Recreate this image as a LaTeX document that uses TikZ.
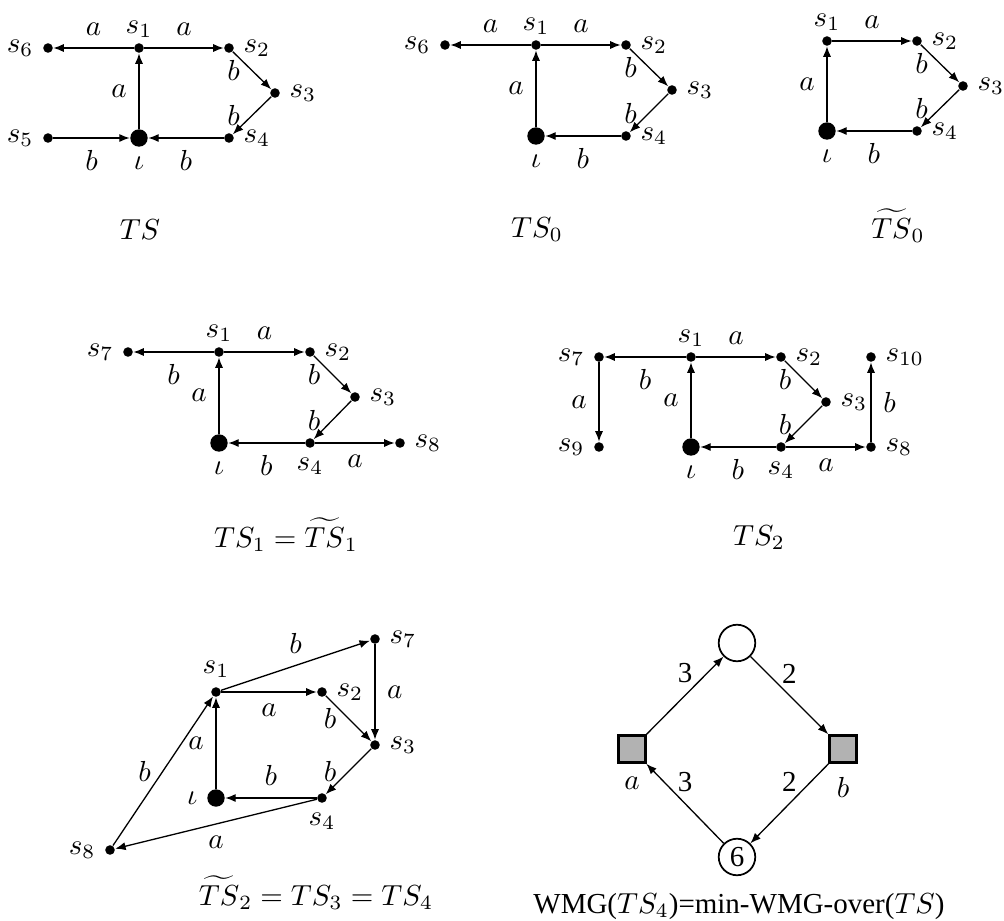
\documentclass[tikz,border=0pt]{standalone}
\usepackage{amsmath,amssymb}
\usepackage[no-math]{fontspec}
\setmainfont{Liberation Serif}
\usepackage{tikz}
\usetikzlibrary{arrows.meta}
\tikzset{
  st/.style={circle, fill=black, inner sep=0pt, minimum size=3.3pt},
  ist/.style={st, minimum size=6pt},
  tr/.style={-{Latex[length=3.6pt,width=2.8pt]}, line width=0.45pt},
  elab/.style={inner sep=4pt},
  captext/.style={anchor=base},
  slabup/.style={label={[label distance=-1.5pt]above:#1}},
  place/.style={circle, draw, line width=0.6pt, minimum size=12.6pt, inner sep=0pt},
  trans/.style={rectangle, draw, fill=black!30, line width=0.8pt, minimum size=9.4pt, inner sep=0pt},
  every label/.style={inner sep=3pt},
}

\begin{document}
\begin{tikzpicture}[x=0.345pt, y=-0.345pt]
  \useasboundingbox (0,0) rectangle (1004,921);

  % TS
  \node[st, slabup=$s_1$] (p1s1) at (139,48) {};
  \node[st, label=left:$s_6$] (p1s6) at (48,48) {};
  \node[st, label=right:$s_2$] (p1s2) at (229,48) {};
  \node[st, label=right:$s_3$] (p1s3) at (275,93) {};
  \node[st, label=right:$s_4$] (p1s4) at (229,138) {};
  \node[st, label=left:$s_5$] (p1s5) at (48,138) {};
  \node[ist, label=below:$\iota$] (p1i) at (139,138) {};
  \draw[tr] (p1s1) -- node[elab, above] (p1l1) {$a$} (p1s6);
  \draw[tr] (p1s1) -- node[elab, above] (p1l2) {$a$} (p1s2);
  \draw[tr] (p1s2) -- node[elab, left] (p1l3) {$b$} (p1s3);
  \draw[tr] (p1s3) -- node[elab, left] (p1l4) {$b$} (p1s4);
  \draw[tr] (p1i) -- node[elab, left] (p1l5) {$a$} (p1s1);
  \draw[tr] (p1s5) -- node[elab, below] (p1l6) {$b$} (p1i);
  \draw[tr] (p1s4) -- node[elab, below] (p1l7) {$b$} (p1i);
  \node[captext] (p1cap) at (140,239) {$TS$};

  % TS_0
  \node[st, slabup=$s_1$] (p2s1) at (536,45) {};
  \node[st, label=left:$s_6$] (p2s6) at (445,45) {};
  \node[st, label=right:$s_2$] (p2s2) at (626,45) {};
  \node[st, label=right:$s_3$] (p2s3) at (672,90) {};
  \node[st, label=right:$s_4$] (p2s4) at (626,136) {};
  \node[ist, label=below:$\iota$] (p2i) at (536,136) {};
  \draw[tr] (p2s1) -- node[elab, above] (p2l1) {$a$} (p2s6);
  \draw[tr] (p2s1) -- node[elab, above] (p2l2) {$a$} (p2s2);
  \draw[tr] (p2s2) -- node[elab, left] (p2l3) {$b$} (p2s3);
  \draw[tr] (p2s3) -- node[elab, left] (p2l4) {$b$} (p2s4);
  \draw[tr] (p2i) -- node[elab, left] (p2l5) {$a$} (p2s1);
  \draw[tr] (p2s4) -- node[elab, below] (p2l6) {$b$} (p2i);
  \node[captext] (p2cap) at (537,237) {$TS_0$};

  % tilde TS_0
  \node[st, slabup=$s_1$] (p3s1) at (827,41) {};
  \node[st, label=right:$s_2$] (p3s2) at (917,41) {};
  \node[st, label=right:$s_3$] (p3s3) at (963,86) {};
  \node[st, label=right:$s_4$] (p3s4) at (917,131) {};
  \node[ist, label=below:$\iota$] (p3i) at (827,131) {};
  \draw[tr] (p3s1) -- node[elab, above] (p3l1) {$a$} (p3s2);
  \draw[tr] (p3s2) -- node[elab, left] (p3l2) {$b$} (p3s3);
  \draw[tr] (p3s3) -- node[elab, left] (p3l3) {$b$} (p3s4);
  \draw[tr] (p3i) -- node[elab, left] (p3l4) {$a$} (p3s1);
  \draw[tr] (p3s4) -- node[elab, below] (p3l5) {$b$} (p3i);
  \node[captext] (p3cap) at (898,238) {$\widetilde{TS}_0$};

  % TS_1
  \node[st, label=left:$s_7$] (p4s7) at (128,352) {};
  \node[st, slabup=$s_1$] (p4s1) at (219,352) {};
  \node[st, label=right:$s_2$] (p4s2) at (310,352) {};
  \node[st, label=right:$s_3$] (p4s3) at (355,397) {};
  \node[st, label=below:$s_4$] (p4s4) at (310,443) {};
  \node[ist, label=below:$\iota$] (p4i) at (219,443) {};
  \node[st, label=right:$s_8$] (p4s8) at (400,443) {};
  \draw[tr] (p4s1) -- node[elab, below] (p4l1) {$b$} (p4s7);
  \draw[tr] (p4s1) -- node[elab, above] (p4l2) {$a$} (p4s2);
  \draw[tr] (p4s2) -- node[elab, left] (p4l3) {$b$} (p4s3);
  \draw[tr] (p4s3) -- node[elab, left] (p4l4) {$b$} (p4s4);
  \draw[tr] (p4i) -- node[elab, left] (p4l5) {$a$} (p4s1);
  \draw[tr] (p4s4) -- node[elab, below] (p4l6) {$b$} (p4i);
  \draw[tr] (p4s4) -- node[elab, below] (p4l7) {$a$} (p4s8);
  \node[captext] (p4cap) at (286,547) {$TS_1 = \widetilde{TS}_1$};

  % TS_2
  \node[st, label=left:$s_7$] (p5s7) at (599,357) {};
  \node[st, slabup=$s_1$] (p5s1) at (691,357) {};
  \node[st, label=right:$s_2$] (p5s2) at (781,357) {};
  \node[st, label=right:$s_3$] (p5s3) at (826,402) {};
  \node[st, label=below:$s_4$] (p5s4) at (781,447) {};
  \node[ist, label=below:$\iota$] (p5i) at (691,447) {};
  \node[st, label=right:$s_8$] (p5s8) at (871,447) {};
  \node[st, label=right:$s_{10}$] (p5s10) at (871,357) {};
  \node[st, label=left:$s_9$] (p5s9) at (599,447) {};
  \draw[tr] (p5s1) -- node[elab, below] (p5l1) {$b$} (p5s7);
  \draw[tr] (p5s7) -- node[elab, left] (p5l2) {$a$} (p5s9);
  \draw[tr] (p5s1) -- node[elab, above] (p5l3) {$a$} (p5s2);
  \draw[tr] (p5s2) -- node[elab, left] (p5l4) {$b$} (p5s3);
  \draw[tr] (p5s3) -- node[elab, left] (p5l5) {$b$} (p5s4);
  \draw[tr] (p5i) -- node[elab, left] (p5l6) {$a$} (p5s1);
  \draw[tr] (p5s4) -- node[elab, below] (p5l7) {$b$} (p5i);
  \draw[tr] (p5s4) -- node[elab, below] (p5l8) {$a$} (p5s8);
  \draw[tr] (p5s8) -- node[elab, right] (p5l9) {$b$} (p5s10);
  \node[captext] (p5cap) at (759,545) {$TS_2$};

  % tilde TS_2 = TS_3 = TS_4
  \node[st, label=right:$s_7$] (p6s7) at (375,639) {};
  \node[st, label=above:$s_1$] (p6s1) at (216,692) {};
  \node[st, label=right:$s_2$] (p6s2) at (322,692) {};
  \node[st, label=right:$s_3$] (p6s3) at (375,745) {};
  \node[st, label=below:$s_4$] (p6s4) at (322,798) {};
  \node[ist, label=left:$\iota$] (p6i) at (216,798) {};
  \node[st, label=left:$s_8$] (p6s8) at (110,850) {};
  \draw[tr] (p6s1) -- node[elab, above] (p6l1) {$b$} (p6s7);
  \draw[tr] (p6s1) -- node[elab, below] (p6l2) {$a$} (p6s2);
  \draw[tr] (p6s7) -- node[elab, right] (p6l3) {$a$} (p6s3);
  \draw[tr] (p6s2) -- node[elab, left] (p6l4) {$b$} (p6s3);
  \draw[tr] (p6s3) -- node[elab, left] (p6l5) {$b$} (p6s4);
  \draw[tr] (p6i) -- node[elab, left] (p6l6) {$a$} (p6s1);
  \draw[tr] (p6s4) -- node[elab, above] (p6l7) {$b$} (p6i);
  \draw[tr] (p6s8) -- node[elab, left] (p6l8) {$b$} (p6s1);
  \draw[tr] (p6s4) -- node[elab, below] (p6l9) {$a$} (p6s8);
  \node[captext] (p6cap) at (316,905) {$\widetilde{TS}_2 = TS_3 = TS_4$};

  % WMG
  \node[place] (p7top) at (737,643) {};
  \node[trans, label={[label distance=1.5pt]below:$a$}] (p7a) at (632,749) {};
  \node[trans, label={[label distance=1.5pt]below:$b$}] (p7b) at (843,749) {};
  \node[place] (p7bot) at (737,857) {6};
  \draw[tr] (p7a) -- node[elab, above] (p7l1) {3} (p7top);
  \draw[tr] (p7top) -- node[elab, above] (p7l2) {2} (p7b);
  \draw[tr] (p7b) -- node[elab, above] (p7l3) {2} (p7bot);
  \draw[tr] (p7bot) -- node[elab, above] (p7l4) {3} (p7a);
  \node[captext] (p7cap) at (739,913) {WMG($TS_4$)=min-WMG-over($TS$)};
\end{tikzpicture}
\end{document}
